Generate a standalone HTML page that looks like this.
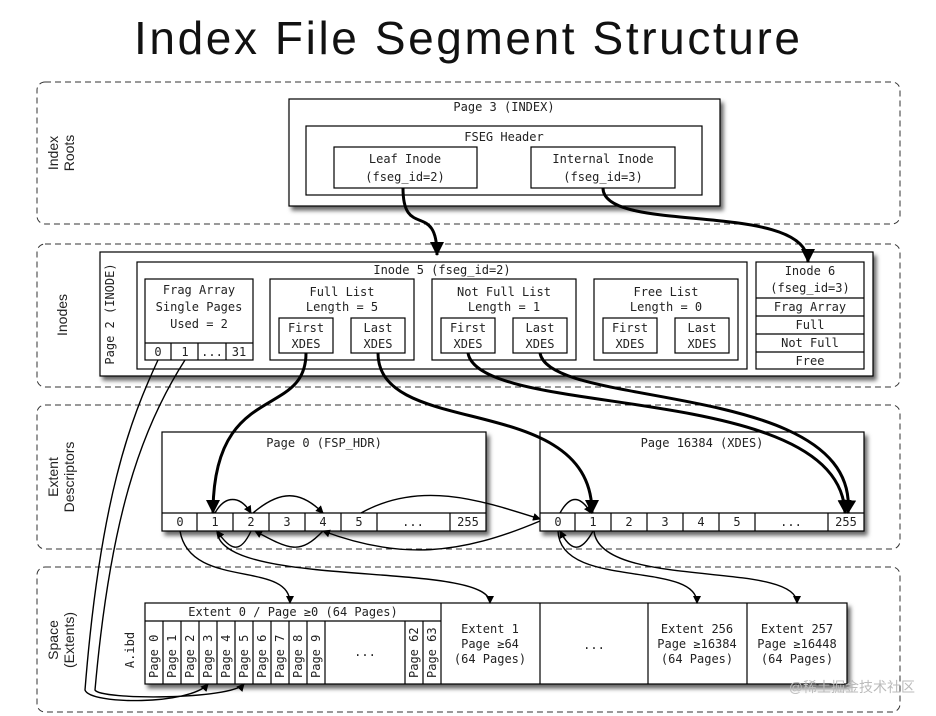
<!DOCTYPE html>
<html><head><style>
html,body{margin:0;padding:0;background:#fff;width:936px;height:716px;overflow:hidden}
svg text{font-family:"DejaVu Sans Mono","Liberation Mono",monospace;font-size:12px;fill:#222}
svg text.s{font-family:"Liberation Sans",sans-serif;font-size:14px}
</style></head><body>
<svg width="936" height="716" viewBox="0 0 936 716" xmlns="http://www.w3.org/2000/svg">
<defs>
<marker id="ah" markerWidth="8" markerHeight="8" refX="7" refY="4" orient="auto" markerUnits="userSpaceOnUse"><path d="M0,0 L8,4 L0,8 z" fill="#000"/></marker>
<marker id="AH" markerWidth="14" markerHeight="14" refX="13" refY="7" orient="auto" markerUnits="userSpaceOnUse"><path d="M0,0 L14,7 L0,14 z" fill="#000"/></marker>
<filter id="sh" x="-5%" y="-5%" width="115%" height="125%"><feDropShadow dx="3" dy="4" stdDeviation="2" flood-color="#000" flood-opacity="0.6"/></filter>
</defs>
<text x="134" y="54" textLength="666" lengthAdjust="spacing" style="font-family:'Liberation Sans',sans-serif;font-size:46px;fill:#111">Index File Segment Structure</text>
<g fill="none" stroke="#333" stroke-dasharray="6,4">
<rect x="37" y="82" width="863" height="142" rx="8"/>
<rect x="37" y="244" width="863" height="143" rx="8"/>
<rect x="37" y="405" width="863" height="144" rx="8"/>
<rect x="37" y="567" width="863" height="145" rx="8"/>
</g>
<text class="s" transform="translate(58,153) rotate(-90)" text-anchor="middle">Index</text>
<text class="s" transform="translate(74,153) rotate(-90)" text-anchor="middle">Roots</text>
<text class="s" transform="translate(67,315) rotate(-90)" text-anchor="middle">Inodes</text>
<text class="s" transform="translate(58,477) rotate(-90)" text-anchor="middle">Extent</text>
<text class="s" transform="translate(74,477) rotate(-90)" text-anchor="middle">Descriptors</text>
<text class="s" transform="translate(58,640) rotate(-90)" text-anchor="middle">Space</text>
<text class="s" transform="translate(74,640) rotate(-90)" text-anchor="middle">(Extents)</text>

<g fill="#fff" stroke="#000" stroke-width="1.2">
<rect x="289" y="99" width="431" height="107" filter="url(#sh)"/>
<rect x="306" y="126" width="396" height="69"/>
<rect x="334" y="147" width="143" height="41"/>
<rect x="531" y="147" width="144" height="41"/>
<rect x="100" y="252" width="773" height="124" filter="url(#sh)"/>
<rect x="137" y="262" width="610" height="107"/>
<rect x="145" y="279" width="108" height="81"/>
<rect x="270" y="279" width="144" height="81"/>
<rect x="279" y="318" width="54" height="35"/><rect x="351" y="318" width="54" height="35"/>
<rect x="432" y="279" width="144" height="81"/>
<rect x="441" y="318" width="54" height="35"/><rect x="513" y="318" width="54" height="35"/>
<rect x="594" y="279" width="144" height="81"/>
<rect x="603" y="318" width="54" height="35"/><rect x="675" y="318" width="54" height="35"/>
<rect x="756" y="262" width="108" height="107"/>
<rect x="162" y="432" width="324" height="99" filter="url(#sh)"/>
<rect x="540" y="432" width="324" height="99" filter="url(#sh)"/>
<rect x="145" y="603" width="702" height="81" filter="url(#sh)"/>
</g>
<g stroke="#000" stroke-width="1.2" fill="none">
<path d="M145,343H253M171,343V360M198,343V360M226,343V360"/>
<path d="M756,298H864M756,316H864M756,334H864M756,352H864"/>
<path d="M162,513H486M197,513V531M233,513V531M269,513V531M305,513V531M341,513V531M377,513V531M450,513V531"/>
<path d="M540,513H864M575,513V531M611,513V531M647,513V531M683,513V531M719,513V531M755,513V531M828,513V531"/>
<path d="M145,621H441M441,603V684M540,603V684M648,603V684M747,603V684"/>
<path d="M163,621V684M181,621V684M199,621V684M217,621V684M235,621V684M253,621V684M271,621V684M289,621V684M307,621V684M325,621V684M405,621V684M423,621V684"/>
</g>
<g text-anchor="middle">
<text x="504" y="111">Page 3 (INDEX)</text>
<text x="504" y="141">FSEG Header</text>
<text x="405" y="163" font-size="13">Leaf Inode</text><text x="405" y="181" font-size="13">(fseg_id=2)</text>
<text x="603" y="163" font-size="13">Internal Inode</text><text x="603" y="181" font-size="13">(fseg_id=3)</text>
<text x="442" y="274">Inode 5 (fseg_id=2)</text>
<text x="199" y="294">Frag Array</text><text x="199" y="311">Single Pages</text><text x="199" y="328">Used = 2</text>
<text x="158" y="356" font-size="11">0</text><text x="185" y="356" font-size="11">1</text><text x="212" y="356" font-size="11">...</text><text x="239" y="356" font-size="11">31</text>
<text x="342" y="296">Full List</text><text x="342" y="311">Length = 5</text>
<text x="504" y="296">Not Full List</text><text x="504" y="311">Length = 1</text>
<text x="666" y="296">Free List</text><text x="666" y="311">Length = 0</text>
<g font-size="11"><text x="306" y="332">First</text><text x="306" y="348">XDES</text><text x="378" y="332">Last</text><text x="378" y="348">XDES</text>
<text x="468" y="332">First</text><text x="468" y="348">XDES</text><text x="540" y="332">Last</text><text x="540" y="348">XDES</text>
<text x="630" y="332">First</text><text x="630" y="348">XDES</text><text x="702" y="332">Last</text><text x="702" y="348">XDES</text></g>
<text x="810" y="275">Inode 6</text><text x="810" y="292">(fseg_id=3)</text>
<g font-size="11"><text x="810" y="311">Frag Array</text><text x="810" y="329">Full</text><text x="810" y="347">Not Full</text><text x="810" y="365">Free</text></g>
<text x="324" y="447">Page 0 (FSP_HDR)</text>
<text x="702" y="447">Page 16384 (XDES)</text>
<g font-size="11">
<text x="180" y="526">0</text><text x="215" y="526">1</text><text x="251" y="526">2</text><text x="287" y="526">3</text><text x="323" y="526">4</text><text x="359" y="526">5</text><text x="413" y="526">...</text><text x="468" y="526">255</text>
<text x="558" y="526">0</text><text x="593" y="526">1</text><text x="629" y="526">2</text><text x="665" y="526">3</text><text x="701" y="526">4</text><text x="737" y="526">5</text><text x="791" y="526">...</text><text x="846" y="526">255</text>
<text x="293" y="616">Extent 0 / Page ≥0 (64 Pages)</text>
<text x="490" y="633">Extent 1</text><text x="490" y="648">Page ≥64</text><text x="490" y="663">(64 Pages)</text>
<text x="594" y="649">...</text><text x="365" y="656">...</text>
<text x="697" y="633">Extent 256</text><text x="697" y="648">Page ≥16384</text><text x="697" y="663">(64 Pages)</text>
<text x="797" y="633">Extent 257</text><text x="797" y="648">Page ≥16448</text><text x="797" y="663">(64 Pages)</text>
</g>
</g>
<text transform="translate(114,314) rotate(-90)" text-anchor="middle">Page 2 (INODE)</text>
<text transform="translate(134,650) rotate(-90)" text-anchor="middle">A.ibd</text>
<g font-size="10">
<text transform="translate(158,678) rotate(-90)">Page 0</text><text transform="translate(176,678) rotate(-90)">Page 1</text>
<text transform="translate(194,678) rotate(-90)">Page 2</text><text transform="translate(212,678) rotate(-90)">Page 3</text>
<text transform="translate(230,678) rotate(-90)">Page 4</text><text transform="translate(248,678) rotate(-90)">Page 5</text>
<text transform="translate(266,678) rotate(-90)">Page 6</text><text transform="translate(284,678) rotate(-90)">Page 7</text>
<text transform="translate(302,678) rotate(-90)">Page 8</text><text transform="translate(320,678) rotate(-90)">Page 9</text>
<text transform="translate(418,678) rotate(-90)">Page 62</text><text transform="translate(436,678) rotate(-90)">Page 63</text>
</g>
<g fill="none" stroke="#000" stroke-width="3">
<path d="M403,188 C403,240 437,200 437,255" marker-end="url(#AH)"/>
<path d="M603,188 C603,235 808,200 808,262" marker-end="url(#AH)"/>
<path d="M306,353 C306,420 213,380 213,513" marker-end="url(#AH)"/>
<path d="M378,353 C378,440 592,390 592,513" marker-end="url(#AH)"/>
<path d="M468,353 C480,420 840,380 845,513" marker-end="url(#AH)"/>
<path d="M540,353 C550,410 860,380 848,513" marker-end="url(#AH)"/>
</g>
<g fill="none" stroke="#000" stroke-width="1.4">
<path d="M215,513 C225,495 240,495 251,513" marker-end="url(#ah)"/>
<path d="M253,513 C280,490 300,490 323,513" marker-end="url(#ah)"/>
<path d="M361,513 C420,480 480,500 540,519" marker-end="url(#ah)"/>
<path d="M251,531 C240,555 230,550 217,531" marker-end="url(#ah)"/>
<path d="M323,531 C300,555 290,550 255,531" marker-end="url(#ah)"/>
<path d="M540,521 C460,555 400,560 323,531" marker-end="url(#ah)"/>
<path d="M560,513 C570,495 580,495 591,513" marker-end="url(#ah)"/>
<path d="M593,531 C580,555 570,550 560,531" marker-end="url(#ah)"/>
<path d="M180,531 C190,590 290,560 290,603" marker-end="url(#ah)"/>
<path d="M217,531 C220,590 490,560 490,603" marker-end="url(#ah)"/>
<path d="M558,531 C560,590 697,560 697,603" marker-end="url(#ah)"/>
<path d="M594,531 C600,590 797,560 797,603" marker-end="url(#ah)"/>
<path d="M158,360 C130,420 100,500 85,690 C90,705 190,705 208,684" marker-end="url(#ah)"/>
<path d="M185,360 C140,430 110,520 95,690 C100,700 230,700 244,684" marker-end="url(#ah)"/>
</g>
<text x="915" y="692" text-anchor="end" style="font-family:'Liberation Sans','Noto Sans CJK SC',sans-serif;font-size:14px;fill:#bbb">@稀土掘金技术社区</text>
</svg>
</body></html>
